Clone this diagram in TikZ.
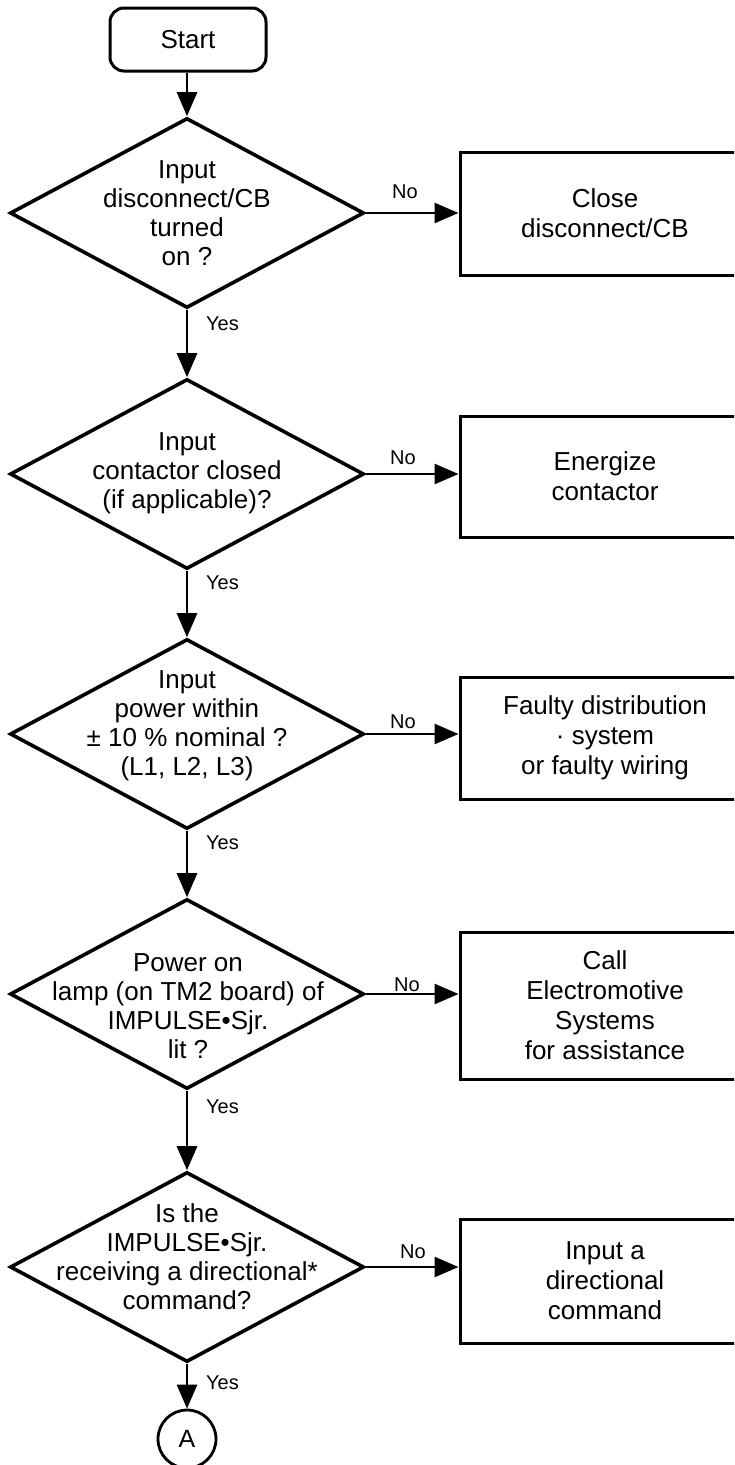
\documentclass[tikz,border=0pt]{standalone}
\usepackage{fontspec}
\setmainfont{Liberation Sans}
\usetikzlibrary{shapes.geometric,arrows.meta}
\tikzset{
  dec/.style={diamond, draw, line width=3.6pt, minimum width=354pt, minimum height=190pt, inner sep=0pt},
  qtext/.style={align=center, font=\fontsize{26}{29}\selectfont, inner sep=0pt},
  actbox/.style={draw, line width=3pt, minimum width=290pt, align=center, inner sep=0pt, font=\fontsize{26}{30}\selectfont},
  startbox/.style={draw, line width=3pt, rounded corners=14pt, minimum width=156pt, minimum height=63pt, font=\fontsize{26}{29}\selectfont},
  conn/.style={draw, circle, line width=2.8pt, minimum size=58pt, inner sep=0pt, font=\fontsize{25}{29}\selectfont},
  lbl/.style={font=\fontsize{20}{24}\selectfont, inner sep=0pt},
  flow/.style={line width=2.8pt, -{Triangle[length=24pt,width=20pt]}},
}
\begin{document}
\begin{tikzpicture}[x=1pt,y=-1pt]
\useasboundingbox (0,0) rectangle (734,1465);
\clip (0,0) rectangle (734,1465);

% start
\node[startbox] (start) at (188,39.5) {Start};

% decisions
\node[dec] (d1) at (187,213) {};
\node[qtext] (t1) at (187,213) {Input\\disconnect/CB\\turned\\on ?};
\node[dec] (d2) at (187,474) {};
\node[qtext] (t2) at (187,473) {Input\\contactor closed\\(if applicable)?};
\node[dec] (d3) at (187,734) {};
\node[qtext] (t3) at (187,726) {Input\\power within\\± 10 \% nominal ?\\(L1, L2, L3)};
\node[dec] (d4) at (187,994) {};
\node[qtext] (t4) at (188,1006) {Power on\\lamp (on TM2 board) of\\IMPULSE•Sjr.\\lit ?};
\node[dec] (d5) at (187,1267) {};
\node[qtext] (t5) at (187,1257) {Is the\\IMPULSE•Sjr.\\receiving a directional*\\command?};

% actions
\node[actbox, minimum height=123pt] (b1) at (605,213.5) {Close\\disconnect/CB};
\node[actbox, minimum height=121pt] (b2) at (605,476.5) {Energize\\contactor};
\node[actbox, minimum height=122pt] (b3) at (605,738) {Faulty distribution\\· system\\or faulty wiring};
\node[actbox, minimum height=147pt] (b4) at (605,1005.5) {Call\\Electromotive\\Systems\\for assistance};
\node[actbox, minimum height=124pt] (b5) at (605,1281) {Input a\\directional\\command};

% connector
\node[conn] (A) at (187,1439) {A};

% vertical flow
\draw[flow] (start.south -| d1.north) -- (d1.north);
\draw[flow] (d1.south) -- (d2.north);
\draw[flow] (d2.south) -- (d3.north);
\draw[flow] (d3.south) -- (d4.north);
\draw[flow] (d4.south) -- (d5.north);
\draw[flow] (d5.south) -- (A.north);

% No branches
\draw[flow] (d1.east) -- (d1.east -| b1.west);
\draw[flow] (d2.east) -- (d2.east -| b2.west);
\draw[flow] (d3.east) -- (d3.east -| b3.west);
\draw[flow] (d4.east) -- (d4.east -| b4.west);
\draw[flow] (d5.east) -- (d5.east -| b5.west);

% labels
\node[lbl] (n1) at (405,192) {No};
\node[lbl] (n2) at (403,458) {No};
\node[lbl] (n3) at (403,722) {No};
\node[lbl] (n4) at (407,985) {No};
\node[lbl] (n5) at (413,1252) {No};
\node[lbl, anchor=west] (y1) at (206,324) {Yes};
\node[lbl, anchor=west] (y2) at (206,583) {Yes};
\node[lbl, anchor=west] (y3) at (206,843) {Yes};
\node[lbl, anchor=west] (y4) at (206,1107) {Yes};
\node[lbl, anchor=west] (y5) at (206,1383) {Yes};
\end{tikzpicture}
\end{document}
